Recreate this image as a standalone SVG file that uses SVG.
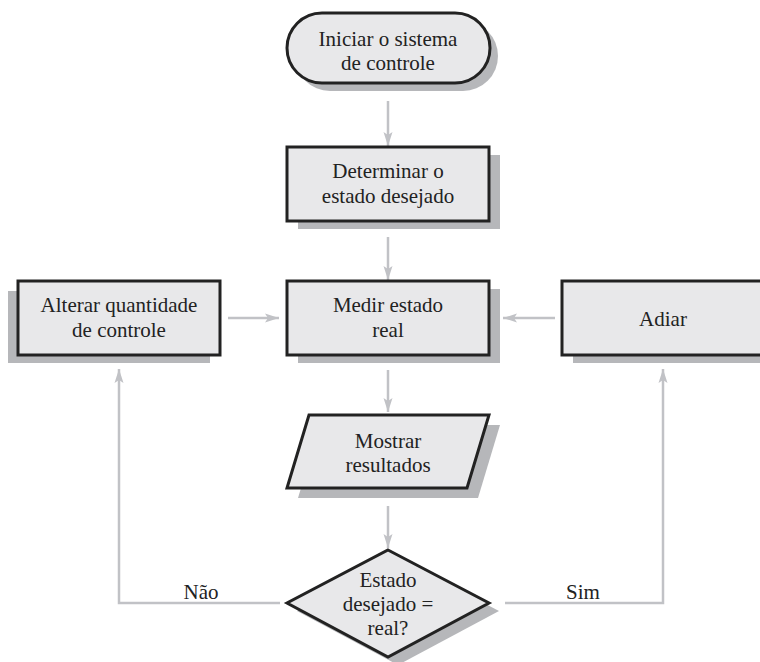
<svg xmlns="http://www.w3.org/2000/svg" width="760" height="662" viewBox="0 0 760 662">
<style>
.shape{fill:#e8e8ea;stroke:#222;stroke-width:3}
.shadow{fill:#b6b7ba}
.t{font-family:'Liberation Serif','Times New Roman',Times,'DejaVu Serif',serif;font-size:21px;fill:#222;text-anchor:middle}
.c{fill:none;stroke:#c1c2c6;stroke-width:2.5}
</style>
<defs>
<marker id="ah" markerUnits="userSpaceOnUse" markerWidth="16" markerHeight="12" refX="14" refY="6" orient="auto">
<path d="M14,6 L0,1.5 L3,6 L0,10.5 Z" fill="#c1c2c6"/>
</marker>
</defs>
<rect width="760" height="662" fill="#fff"/>
<g id="connectors">
<path class="c" d="M388,101 L388,146" marker-end="url(#ah)"/>
<path class="c" d="M388,237 L388,280" marker-end="url(#ah)"/>
<path class="c" d="M388,370 L388,412" marker-end="url(#ah)"/>
<path class="c" d="M388,506 L388,548" marker-end="url(#ah)"/>
<path class="c" d="M228,318 L279,318" marker-end="url(#ah)"/>
<path class="c" d="M555,318 L503,318" marker-end="url(#ah)"/>
<path class="c" d="M280,603 L119,603 L119,369" marker-end="url(#ah)"/>
<path class="c" d="M505,603 L663,603 L663,369" marker-end="url(#ah)"/>
</g>
<g id="labels">
<text class="t" x="201" y="599" font-family="Liberation Serif, serif">Não</text>
<text class="t" x="583" y="599" font-family="Liberation Serif, serif">Sim</text>
</g>
<g id="start">
<rect class="shadow" x="295" y="21" width="203" height="70" rx="35"/>
<rect class="shape" x="287" y="13" width="203" height="70" rx="35"/>
<text class="t" x="388" y="46">Iniciar o sistema</text>
<text class="t" x="388" y="70">de controle</text>
</g>
<g id="determinar">
<rect class="shadow" x="298" y="155" width="202" height="74"/>
<rect class="shape" x="287" y="147" width="202" height="74"/>
<text class="t" x="388" y="178">Determinar o</text>
<text class="t" x="388" y="203">estado desejado</text>
</g>
<g id="medir">
<rect class="shadow" x="298" y="289" width="202" height="74"/>
<rect class="shape" x="287" y="281" width="202" height="74"/>
<text class="t" x="388" y="312">Medir estado</text>
<text class="t" x="388" y="337">real</text>
</g>
<g id="alterar">
<rect class="shadow" x="8" y="291" width="202" height="72"/>
<rect class="shape" x="18" y="281" width="202" height="74"/>
<text class="t" x="119" y="312">Alterar quantidade</text>
<text class="t" x="119" y="337">de controle</text>
</g>
<g id="adiar">
<rect class="shadow" x="573" y="289" width="202" height="74"/>
<rect class="shape" x="562" y="281" width="202" height="74"/>
<text class="t" x="663" y="326">Adiar</text>
</g>
<g id="mostrar">
<polygon class="shadow" points="320,425 500,425 478,498 298,498"/>
<polygon class="shape" points="309,415 489,415 467,488 287,488"/>
<text class="t" x="388" y="448">Mostrar</text>
<text class="t" x="388" y="472">resultados</text>
</g>
<g id="decisao">
<polygon class="shadow" points="398,558 499,611 398,665 297,611"/>
<polygon class="shape" points="388,550 489,603 388,657 287,603"/>
<text class="t" x="388" y="587">Estado</text>
<text class="t" x="388" y="611">desejado =</text>
<text class="t" x="388" y="635">real?</text>
</g>
</svg>
